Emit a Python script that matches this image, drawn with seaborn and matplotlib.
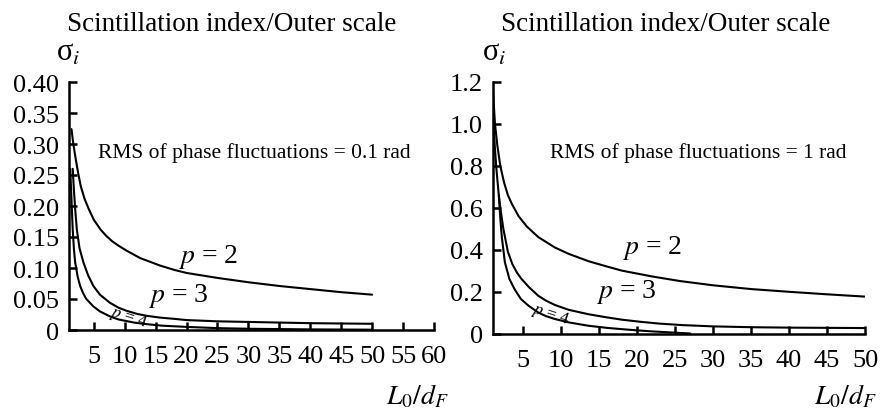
import numpy as np
import pandas as pd
import matplotlib
matplotlib.use("Agg")
import matplotlib.pyplot as plt
import seaborn as sns

# ---------------- data ----------------
# Left panel: RMS of phase fluctuations = 0.1 rad
left_p2_x = [1.4, 1.7, 2.1, 2.5, 2.9, 3.5, 4.2, 5.0, 6.1, 7.0, 8.0, 9.0, 10.3, 12.5, 15.7, 18, 20, 25, 30, 35, 40, 45, 50]
left_p2_y = [0.324, 0.30, 0.275, 0.252, 0.232, 0.212, 0.195, 0.178, 0.162, 0.152, 0.143, 0.136, 0.128, 0.116, 0.104, 0.097, 0.092, 0.084, 0.077, 0.071, 0.066, 0.061, 0.057]
left_p3_x = [1.6, 1.8, 2.0, 2.27, 2.7, 3.33, 4.1, 4.94, 6.0, 7.6, 9.0, 10.3, 12, 13.5, 15.7, 18, 20, 25, 30, 35, 40, 45, 50]
left_p3_y = [0.26, 0.225, 0.195, 0.162, 0.132, 0.109, 0.088, 0.071, 0.057, 0.044, 0.036, 0.031, 0.026, 0.023, 0.020, 0.018, 0.016, 0.014, 0.013, 0.012, 0.011, 0.0105, 0.010]
left_p4_x = [1.2, 1.3, 1.4, 1.6, 1.8, 2.0, 2.4, 2.8, 3.3, 3.8, 4.94, 6.0, 7.6, 9.0, 10, 11.5, 13, 16, 20, 25, 30, 40, 50]
left_p4_y = [0.26, 0.235, 0.21, 0.162, 0.13, 0.109, 0.086, 0.071, 0.059, 0.050, 0.038, 0.030, 0.022, 0.017, 0.015, 0.012, 0.010, 0.007, 0.005, 0.003, 0.002, 0.001, 0.0005]

# Right panel: RMS of phase fluctuations = 1 rad
right_p2_x = [1.05, 1.3, 1.6, 2.0, 2.5, 3.0, 3.5, 4.4, 5.5, 7.0, 9.2, 11, 13.6, 16, 18, 22, 25.7, 30, 35, 40, 45, 50]
right_p2_y = [1.15, 1.0, 0.90, 0.80, 0.72, 0.66, 0.62, 0.56, 0.51, 0.46, 0.41, 0.38, 0.345, 0.32, 0.30, 0.272, 0.250, 0.230, 0.212, 0.199, 0.187, 0.176]
right_p3_x = [1.1, 1.3, 1.5, 1.75, 2.0, 2.4, 3.0, 3.6, 4.2, 4.8, 5.8, 7.0, 8.0, 9.2, 11, 13.6, 16, 18, 20.4, 23, 26, 30, 35, 40, 45, 50]
right_p3_y = [1.0, 0.88, 0.78, 0.68, 0.60, 0.50, 0.39, 0.33, 0.29, 0.26, 0.22, 0.18, 0.157, 0.136, 0.113, 0.092, 0.077, 0.066, 0.056, 0.047, 0.040, 0.034, 0.030, 0.028, 0.027, 0.026]
right_p4_x = [1.8, 2.0, 2.2, 2.6, 3.2, 3.9, 4.7, 5.7, 7.0, 8.0, 9.2, 11, 13.6, 16, 17.9, 20, 22, 24.5, 27]
right_p4_y = [0.66, 0.55, 0.46, 0.34, 0.26, 0.21, 0.165, 0.133, 0.100, 0.083, 0.069, 0.053, 0.037, 0.027, 0.021, 0.015, 0.010, 0.005, 0.0]

left_xticks = [5, 10, 15, 20, 25, 30, 35, 40, 45, 50, 55, 60]
left_yticks = [0, 0.05, 0.10, 0.15, 0.20, 0.25, 0.30, 0.35, 0.40]
left_yticklabels = ["0", "0.05", "0.10", "0.15", "0.20", "0.25", "0.30", "0.35", "0.40"]
right_xticks = [5, 10, 15, 20, 25, 30, 35, 40, 45, 50]
right_yticks = [0, 0.2, 0.4, 0.6, 0.8, 1.0, 1.2]
right_yticklabels = ["0", "0.2", "0.4", "0.6", "0.8", "1.0", "1.2"]

title_text = "Scintillation index/Outer scale"
left_note = "RMS of phase fluctuations = 0.1 rad"
right_note = "RMS of phase fluctuations = 1 rad"


def make_df(curves):
    frames = []
    for name, xs, ys in curves:
        frames.append(pd.DataFrame({"x": xs, "y": ys, "p": name}))
    return pd.concat(frames, ignore_index=True)


left_df = make_df([("2", left_p2_x, left_p2_y), ("3", left_p3_x, left_p3_y), ("4", left_p4_x, left_p4_y)])
right_df = make_df([("2", right_p2_x, right_p2_y), ("3", right_p3_x, right_p3_y), ("4", right_p4_x, right_p4_y)])

# ---------------- style ----------------
sns.set_theme(style="ticks")
plt.rcParams["font.family"] = ["Liberation Serif", "DejaVu Serif"]
plt.rcParams["mathtext.fontset"] = "stix"
plt.rcParams["axes.linewidth"] = 1.8
plt.rcParams["xtick.direction"] = "in"
plt.rcParams["ytick.direction"] = "in"

W, H = 881, 410
fig = plt.figure(figsize=(W / 100, H / 100), dpi=100)

axL = fig.add_axes([69 / W, 1 - 331 / H, (434 - 69) / W, (331 - 83) / H])
axR = fig.add_axes([492.7 / W, 1 - 334.5 / H, (865 - 492.7) / W, (334.5 - 83) / H])


def draw(ax, df, xlim, ylim, xticks, yticks, yticklabels):
    sns.lineplot(data=df, x="x", y="y", units="p", estimator=None, sort=False,
                 color="black", linewidth=1.5, ax=ax, legend=False)
    ax.set_xlim(*xlim)
    ax.set_ylim(*ylim)
    ax.set_xticks(xticks)
    ax.set_xticklabels([str(t) for t in xticks])
    ax.set_yticks(yticks)
    ax.set_yticklabels(yticklabels)
    ax.set_xlabel("")
    ax.set_ylabel("")
    for s in ["top", "right"]:
        ax.spines[s].set_visible(False)
    for s in ["left", "bottom"]:
        ax.spines[s].set_color("black")
        ax.spines[s].set_linewidth(1.8)
    ax.tick_params(axis="both", direction="in", length=6, width=1.8, colors="black",
                   labelsize=19, labelcolor="black")
    ax.tick_params(axis="x", pad=11)
    ax.tick_params(axis="y", pad=7)
    ax.set_facecolor("white")
    ax.patch.set_alpha(0)


draw(axL, left_df, (1, 60), (0, 0.40), left_xticks, left_yticks, left_yticklabels)
draw(axR, right_df, (1, 50), (0, 1.2), right_xticks, right_yticks, right_yticklabels)

# curve labels
lab_kw = dict(ha="center", va="center", fontsize=20, color="black")
axL.text(23.5, 0.12, "$p$ = 2", **lab_kw)
axL.text(18.6, 0.057, "$p$ = 3", **lab_kw)
axL.text(10.6, 0.021, "$p$ = 4", ha="center", va="center", fontsize=12.5, rotation=-18, color="black")
axR.text(21.9, 0.413, "$p$ = 2", **lab_kw)
axR.text(18.6, 0.204, "$p$ = 3", **lab_kw)
axR.text(8.65, 0.093, "$p$ = 4", ha="center", va="center", fontsize=12.5, rotation=-18, color="black")

axL.text(30.9, 0.287, left_note, ha="center", va="center", fontsize=15.5, color="black")
axR.text(28.1, 0.866, right_note, ha="center", va="center", fontsize=15.5, color="black")

# titles and axis labels
fig.text(232 / W, 1 - 31 / H, title_text, ha="center", va="baseline", fontsize=19.5, color="black")
fig.text(665.7 / W, 1 - 31 / H, title_text, ha="center", va="baseline", fontsize=19.5, color="black")
fig.text(68 / W, 1 - 53 / H, "σ$_i$", ha="center", va="center", fontsize=22, color="black")
fig.text(494.5 / W, 1 - 53 / H, "σ$_i$", ha="center", va="center", fontsize=22, color="black")
fig.text(417 / W, 1 - 397 / H, "$L_0/d_F$", ha="center", va="center", fontsize=20, color="black")
fig.text(845 / W, 1 - 397 / H, "$L_0/d_F$", ha="center", va="center", fontsize=20, color="black")

fig.savefig("out.png", dpi=100, facecolor="white")
